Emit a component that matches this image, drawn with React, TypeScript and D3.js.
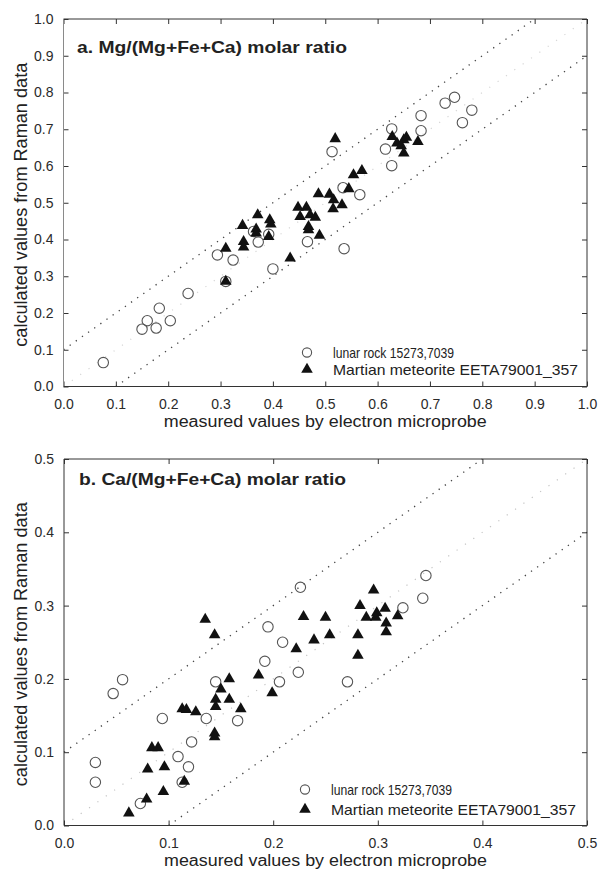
import React, { useEffect, useRef } from 'react';
import * as d3 from 'd3';

// Panel a: Mg/(Mg+Fe+Ca) — [measured (microprobe), calculated (Raman)]
const lunarA: [number, number][] = [
  [0.076, 0.065], [0.150, 0.156], [0.160, 0.179], [0.177, 0.159], [0.183, 0.213],
  [0.204, 0.179], [0.238, 0.253], [0.294, 0.358], [0.324, 0.344], [0.310, 0.286],
  [0.363, 0.422], [0.372, 0.393], [0.392, 0.414], [0.400, 0.320], [0.466, 0.394],
  [0.513, 0.639], [0.534, 0.541], [0.566, 0.522], [0.536, 0.375], [0.615, 0.646],
  [0.627, 0.701], [0.627, 0.601], [0.683, 0.737], [0.683, 0.696], [0.729, 0.771],
  [0.747, 0.787], [0.762, 0.718], [0.780, 0.752],
];
const marsA: [number, number][] = [
  [0.310, 0.376], [0.310, 0.286], [0.342, 0.438], [0.344, 0.394], [0.344, 0.379],
  [0.371, 0.467], [0.368, 0.428], [0.368, 0.417], [0.394, 0.453], [0.396, 0.442],
  [0.392, 0.408], [0.433, 0.349], [0.519, 0.674], [0.448, 0.487], [0.464, 0.487],
  [0.452, 0.462], [0.471, 0.467], [0.481, 0.460], [0.468, 0.435], [0.468, 0.426],
  [0.489, 0.411], [0.487, 0.524], [0.508, 0.523], [0.516, 0.508], [0.515, 0.483],
  [0.532, 0.494], [0.545, 0.538], [0.554, 0.576], [0.570, 0.587], [0.628, 0.680],
  [0.637, 0.662], [0.650, 0.671], [0.655, 0.678], [0.645, 0.655], [0.650, 0.635],
  [0.677, 0.666],
];

// Panel b: Ca/(Mg+Fe+Ca)
const lunarB: [number, number][] = [
  [0.030, 0.086], [0.030, 0.059], [0.047, 0.180], [0.056, 0.199], [0.073, 0.030],
  [0.094, 0.146], [0.109, 0.094], [0.113, 0.059], [0.119, 0.080], [0.122, 0.114],
  [0.136, 0.146], [0.145, 0.196], [0.166, 0.143], [0.192, 0.224], [0.195, 0.271],
  [0.209, 0.250], [0.206, 0.196], [0.224, 0.209], [0.226, 0.325], [0.271, 0.196],
  [0.324, 0.297], [0.343, 0.310], [0.346, 0.341],
];
const marsB: [number, number][] = [
  [0.062, 0.017], [0.079, 0.036], [0.080, 0.077], [0.095, 0.046], [0.096, 0.080],
  [0.084, 0.106], [0.090, 0.106], [0.115, 0.060], [0.113, 0.159], [0.117, 0.158],
  [0.126, 0.155], [0.135, 0.281], [0.144, 0.260], [0.144, 0.126], [0.144, 0.121],
  [0.145, 0.172], [0.145, 0.162], [0.150, 0.186], [0.158, 0.200], [0.158, 0.172],
  [0.169, 0.159], [0.186, 0.205], [0.199, 0.181], [0.222, 0.241], [0.229, 0.285],
  [0.239, 0.253], [0.250, 0.284], [0.254, 0.260], [0.281, 0.260], [0.281, 0.232],
  [0.283, 0.300], [0.289, 0.284], [0.296, 0.321], [0.299, 0.290], [0.298, 0.284],
  [0.307, 0.296], [0.308, 0.276], [0.308, 0.264], [0.319, 0.286],
];

const ticksA = [0, 0.1, 0.2, 0.3, 0.4, 0.5, 0.6, 0.7, 0.8, 0.9, 1.0];
const ticksB = [0, 0.1, 0.2, 0.3, 0.4, 0.5];
const bandOffset = 0.1;

const titleA = 'a. Mg/(Mg+Fe+Ca) molar ratio';
const titleB = 'b. Ca/(Mg+Fe+Ca) molar ratio';
const xLabel = 'measured values by electron microprobe';
const yLabel = 'calculated values from Raman data';
const legendLunar = 'lunar rock 15273,7039';
const legendMars = 'Martian meteorite EETA79001_357';

const FONT = "'Liberation Sans', Arial, Helvetica, sans-serif";

type Panel = {
  left: number; right: number; top: number; bottom: number;
  max: number; ticks: number[];
  title: string; titleX: number; titleY: number; titleLen: number;
  lunar: [number, number][]; mars: [number, number][];
  legMarkX: number; legTextX: number; legY1: number; legY2: number;
  leftAxisColor: string; diagColor: string;
};

function drawPanel(svg: d3.Selection<SVGSVGElement, unknown, null, undefined>, p: Panel) {
  const x = d3.scaleLinear().domain([0, p.max]).range([p.left, p.right]);
  const y = d3.scaleLinear().domain([0, p.max]).range([p.bottom, p.top]);
  const g = svg.append('g');
  const fmt = d3.format('.1f');

  // reference lines
  const line = d3.line<[number, number]>().x(d => x(d[0])).y(d => y(d[1]));
  const m = p.max;
  g.append('path')
    .attr('d', line([[0, 0], [m, m]]))
    .attr('fill', 'none').attr('stroke', p.diagColor).attr('stroke-width', 1.2)
    .attr('stroke-dasharray', '1.2 9');
  g.append('path')
    .attr('d', line([[0, bandOffset], [m - bandOffset, m]]))
    .attr('fill', 'none').attr('stroke', '#444').attr('stroke-width', 1.3)
    .attr('stroke-dasharray', '1.3 6.2');
  g.append('path')
    .attr('d', line([[bandOffset, 0], [m, m - bandOffset]]))
    .attr('fill', 'none').attr('stroke', '#444').attr('stroke-width', 1.3)
    .attr('stroke-dasharray', '1.3 6.2');

  // axes (ticks inside)
  const styleAxis = (sel: d3.Selection<SVGGElement, unknown, null, undefined>) => {
    sel.select('.domain').remove();
    sel.attr('font-family', FONT).attr('font-size', 14).attr('color', '#2a2a2a');
    sel.selectAll('line').attr('stroke', '#333');
  };
  const bottomAxis = d3.axisBottom(x).tickValues(p.ticks).tickSize(-5).tickPadding(12.5).tickFormat(d => fmt(d as number));
  g.append('g').attr('transform', `translate(0,${p.bottom})`).call(bottomAxis).call(styleAxis);
  const leftAxis = d3.axisLeft(y).tickValues(p.ticks).tickSize(-5).tickPadding(10).tickFormat(d => fmt(d as number));
  g.append('g').attr('transform', `translate(${p.left},0)`).call(leftAxis).call(styleAxis);
  const topAxis = d3.axisTop(x).tickValues(p.ticks).tickSize(-5).tickFormat(() => '');
  g.append('g').attr('transform', `translate(0,${p.top})`).call(topAxis).call(styleAxis);
  const rightAxis = d3.axisRight(y).tickValues(p.ticks).tickSize(-5).tickFormat(() => '');
  g.append('g').attr('transform', `translate(${p.right},0)`).call(rightAxis).call(styleAxis);

  // frame
  const frame = g.append('g').attr('stroke-width', 1).attr('fill', 'none');
  frame.append('line').attr('x1', p.left).attr('x2', p.right).attr('y1', p.top).attr('y2', p.top).attr('stroke', '#333');
  frame.append('line').attr('x1', p.left).attr('x2', p.right).attr('y1', p.bottom).attr('y2', p.bottom).attr('stroke', '#333');
  frame.append('line').attr('x1', p.right).attr('x2', p.right).attr('y1', p.top).attr('y2', p.bottom).attr('stroke', '#333');
  frame.append('line').attr('x1', p.left).attr('x2', p.left).attr('y1', p.top).attr('y2', p.bottom).attr('stroke', p.leftAxisColor);

  // points
  g.append('g').selectAll('circle').data(p.lunar).join('circle')
    .attr('cx', d => x(d[0])).attr('cy', d => y(d[1])).attr('r', 5.2)
    .attr('fill', 'none').attr('stroke', '#555').attr('stroke-width', 1.1);
  const tri = d3.symbol().type(d3.symbolTriangle).size(58);
  g.append('g').selectAll('path').data(p.mars).join('path')
    .attr('d', tri() as string)
    .attr('transform', d => `translate(${x(d[0])},${y(d[1])})`)
    .attr('fill', '#111');

  // title
  g.append('text').attr('x', p.titleX).attr('y', p.titleY)
    .attr('font-family', FONT).attr('font-size', 16.5).attr('font-weight', 'bold').attr('fill', '#222')
    .attr('textLength', p.titleLen).attr('lengthAdjust', 'spacingAndGlyphs')
    .text(p.title);

  // legend
  g.append('circle').attr('cx', p.legMarkX).attr('cy', p.legY1 - 5).attr('r', 4.6)
    .attr('fill', 'none').attr('stroke', '#555').attr('stroke-width', 1.1);
  g.append('path').attr('d', tri() as string)
    .attr('transform', `translate(${p.legMarkX},${p.legY2 - 5})`).attr('fill', '#111');
  g.append('text').attr('x', p.legTextX).attr('y', p.legY1)
    .attr('font-family', FONT).attr('font-size', 14.5).attr('fill', '#222')
    .attr('textLength', 121).attr('lengthAdjust', 'spacingAndGlyphs')
    .text(legendLunar);
  g.append('text').attr('x', p.legTextX).attr('y', p.legY2)
    .attr('font-family', FONT).attr('font-size', 14.5).attr('fill', '#222')
    .attr('textLength', 245).attr('lengthAdjust', 'spacingAndGlyphs')
    .text(legendMars);

  // axis labels
  g.append('text').attr('x', (p.left + p.right) / 2).attr('y', p.bottom + 40)
    .attr('text-anchor', 'middle')
    .attr('font-family', FONT).attr('font-size', 16).attr('fill', '#222')
    .attr('textLength', 323).attr('lengthAdjust', 'spacingAndGlyphs')
    .text(xLabel);
  const cy = (p.top + p.bottom) / 2 + 2;
  g.append('text')
    .attr('transform', `translate(27,${cy}) rotate(-90)`)
    .attr('text-anchor', 'middle')
    .attr('font-family', FONT).attr('font-size', 18).attr('fill', '#222')
    .attr('textLength', 284).attr('lengthAdjust', 'spacingAndGlyphs')
    .text(yLabel);
}

export default function App() {
  const ref = useRef<SVGSVGElement>(null);
  useEffect(() => {
    document.body.style.margin = '0';
    if (!ref.current) return;
    const svg = d3.select(ref.current);
    svg.selectAll('*').remove();
    svg.append('rect').attr('width', 598).attr('height', 871).attr('fill', '#fff');
    drawPanel(svg, {
      left: 63.5, right: 587, top: 19, bottom: 386.5, max: 1.0, ticks: ticksA,
      title: titleA, titleX: 77, titleY: 52.5, titleLen: 270,
      lunar: lunarA, mars: marsA,
      legMarkX: 307, legTextX: 333, legY1: 357.5, legY2: 374.5,
      leftAxisColor: '#8a8a8a', diagColor: '#d6d6d6',
    });
    drawPanel(svg, {
      left: 64, right: 587, top: 459, bottom: 825.5, max: 0.5, ticks: ticksB,
      title: titleB, titleX: 79, titleY: 485, titleLen: 267,
      lunar: lunarB, mars: marsB,
      legMarkX: 305, legTextX: 331, legY1: 794.5, legY2: 814.5,
      leftAxisColor: '#333', diagColor: '#c4c4c4',
    });
  }, []);
  return <svg ref={ref} width={598} height={871} style={{ display: 'block' }} />;
}
